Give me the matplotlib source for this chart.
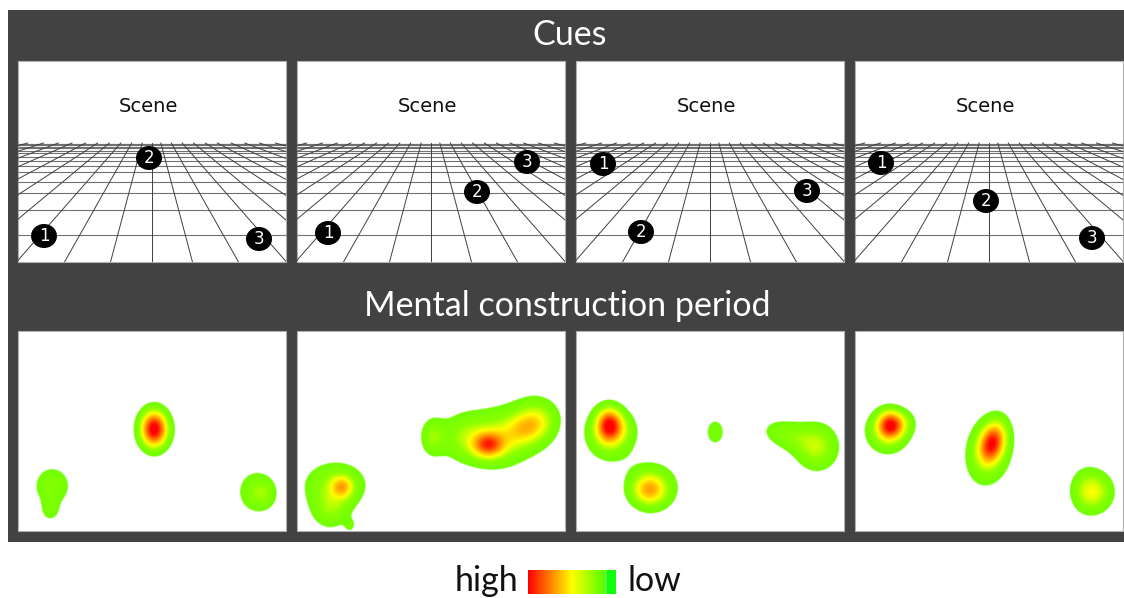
import numpy as np
import matplotlib
matplotlib.use("Agg")
import matplotlib.pyplot as plt
from matplotlib.colors import LinearSegmentedColormap
from matplotlib.patches import Ellipse, Rectangle

# ---- data ----
TITLES = ["Cues", "Mental construction period"]
SCENE = "Scene"
PANEL_LEFT = [18, 297, 576, 855]
# grid rows (distance below panel top) and radial line offsets at the panel bottom
GRID_ROWS = [82.7, 83.3, 84.3, 85.7, 87.3, 89.7, 92.3, 95.7, 100, 105, 111.3, 120.7, 131.7, 149, 174]
GRID_RADIAL = [0, 41, 87, 135, 185, 237, 290, 350, 410, 475, 545, 620]
# cue markers (x, y) in picture pixels
CUES = [
    [(44, 236), (149, 158), (259, 239)],
    [(328, 233), (477, 192), (527, 162)],
    [(603, 164), (641, 232), (807, 191)],
    [(881, 163), (986, 201), (1092, 238)],
]
# fixation blobs: x, y, peak, sigma x, sigma y, angle in degrees
BLOBS_1 = [(154, 429, 0.90, 9.5, 13, 0), (154, 430, 0.15, 17, 20, 0),
           (52, 486, 0.27, 15, 16, 0), (50, 512, 0.17, 7, 8, 0),
           (256, 492, 0.30, 14, 16, 0), (266, 494, 0.12, 8, 10, 0)]
BLOBS_2 = [(488, 445, 0.55, 11, 9, 0), (527, 427, 0.27, 17, 11, -25),
           (537, 421, 0.30, 17, 19, 0), (500, 438, 0.38, 24, 22, -20),
           (462, 437, 0.27, 17, 18, 0), (432, 437, 0.30, 9, 14, 0),
           (342, 487, 0.38, 8, 8, 0), (335, 485, 0.33, 24, 18, 0),
           (330, 512, 0.25, 14, 14, 0), (350, 526, 0.15, 4, 5, 0)]
BLOBS_3 = [(609, 425, 0.72, 9, 12, 0), (608, 434, 0.35, 18, 20, 0), (625, 430, 0.12, 10, 12, 0),
           (649, 490, 0.42, 12, 11, 0), (652, 487, 0.30, 20, 19, 0),
           (715, 432, 0.22, 9, 12.5, 0), (818, 447, 0.30, 15, 17, 0), (812, 447, 0.10, 20, 20, 0),
           (784, 434, 0.25, 18, 11, 15)]
BLOBS_4 = [(890, 425, 0.70, 9, 10, 0), (887, 432, 0.35, 17, 17, 0), (905, 422, 0.14, 9, 9, 0),
           (992, 443, 0.72, 9, 15, 15), (988, 452, 0.32, 18, 27, 8),
           (1095, 492, 0.40, 14, 15, 0), (1084, 490, 0.16, 12, 18, 0)]
ALL_BLOBS = [BLOBS_1, BLOBS_2, BLOBS_3, BLOBS_4]
LEGEND_HIGH, LEGEND_LOW = "high", "low"

PANEL_W, PANEL_H = 267.5, 201
TOP_Y, BOTTOM_Y = 61, 331
BG = "#424242"
HEAT = LinearSegmentedColormap.from_list(
    "heat", [(0, "#70ff00"), (0.2, "#88ff00"), (0.44, "#ffff00"), (0.7, "#ff9000"), (1, "#ff0000")])
LEG = LinearSegmentedColormap.from_list(
    "leg", [(0, "#ff0000"), (0.5, "#ffff00"), (0.88, "#50ff00"), (0.885, "#c0ffb0"), (0.895, "#10ff10"), (1, "#10ff10")])
THRESH = 0.15

W, H = 1124, 598
fig = plt.figure(figsize=(W / 100, H / 100), dpi=100, facecolor="white")
ax = fig.add_axes([0, 0, 1, 1])
ax.set_xlim(0, W)
ax.set_ylim(H, 0)
ax.axis("off")
ax.add_patch(Rectangle((8, 10), W - 8, 532, fc=BG, ec="none", zorder=0))
ax.text(570, 35, TITLES[0], color="white", ha="center", va="center", fontsize=24.5, family="Lato")
ax.text(567, 306, TITLES[1], color="white", ha="center", va="center", fontsize=24.5, family="Lato")

yy, xx = np.mgrid[0:H:0.5, 0:W:0.5]
for i, left in enumerate(PANEL_LEFT):
    # cue scene
    clip = Rectangle((left, TOP_Y), PANEL_W, PANEL_H, fc="white", ec="#b0b0b0", lw=0.8, zorder=1)
    ax.add_patch(clip)
    cx = left + 133.5
    ax.text(cx - 3.5, 107, SCENE, ha="center", va="center", fontsize=14, color="#111111",
            family="DejaVu Sans", zorder=2)
    bottom = TOP_Y + PANEL_H
    vanish_y = 108.0
    horizon_y = TOP_Y + 82.0
    for r in GRID_ROWS:
        y = TOP_Y + r
        ax.plot([left, left + PANEL_W], [y, y], color="#707070", lw=0.8, zorder=2, solid_capstyle="butt")
    for off in GRID_RADIAL:
        for s in ([1, -1] if off else [1]):
            xb = cx + s * off
            xt = cx + s * off * (horizon_y - vanish_y) / (bottom - vanish_y)
            ln, = ax.plot([xb, xt], [bottom, horizon_y], color="#404040", lw=0.7, zorder=2)
            ln.set_clip_path(clip)
    for k, (mx, my) in enumerate(CUES[i]):
        ax.add_patch(Ellipse((mx, my), 26, 24, fc="black", ec="none", zorder=3))
        ax.text(mx, my, str(k + 1), color="white", ha="center", va="center", fontsize=12,
                family="DejaVu Sans", zorder=4)

    # heat panel
    rect = Rectangle((left, BOTTOM_Y), PANEL_W, PANEL_H - 1, fc="white", ec="#b0b0b0", lw=0.8, zorder=1)
    ax.add_patch(rect)
    x0, x1 = left, left + PANEL_W
    y0, y1 = BOTTOM_Y, BOTTOM_Y + PANEL_H - 1
    ix = (xx[0] >= x0) & (xx[0] <= x1)
    iy = (yy[:, 0] >= y0) & (yy[:, 0] <= y1)
    gx, gy = np.meshgrid(xx[0][ix], yy[:, 0][iy])
    v = np.zeros_like(gx)
    for (bx, by, a, sx, sy, ang) in ALL_BLOBS[i]:
        t = np.deg2rad(ang)
        u = (gx - bx) * np.cos(t) + (gy - by) * np.sin(t)
        w = -(gx - bx) * np.sin(t) + (gy - by) * np.cos(t)
        v += a * np.exp(-0.5 * (u / sx) ** 2 - 0.5 * (w / sy) ** 2)
    rgba = HEAT(np.clip((v - THRESH) / (1 - THRESH), 0, 1))
    rgba[..., 3] = np.clip((v - THRESH) / 0.012, 0, 1)
    ax.imshow(rgba, extent=(x0, x1, y1, y0), zorder=2, interpolation="bilinear", aspect="auto")

# legend
ax.imshow(np.linspace(0, 1, 256)[None, :], cmap=LEG, extent=(528, 616, 594, 570), aspect="auto", zorder=2)
ax.text(518, 581, LEGEND_HIGH, ha="right", va="center", fontsize=24.5, color="#111111", family="Lato")
ax.text(627, 581, LEGEND_LOW, ha="left", va="center", fontsize=24.5, color="#111111", family="Lato")
ax.set_xlim(0, W)
ax.set_ylim(H, 0)
fig.savefig("out.png", dpi=100, facecolor="white")
